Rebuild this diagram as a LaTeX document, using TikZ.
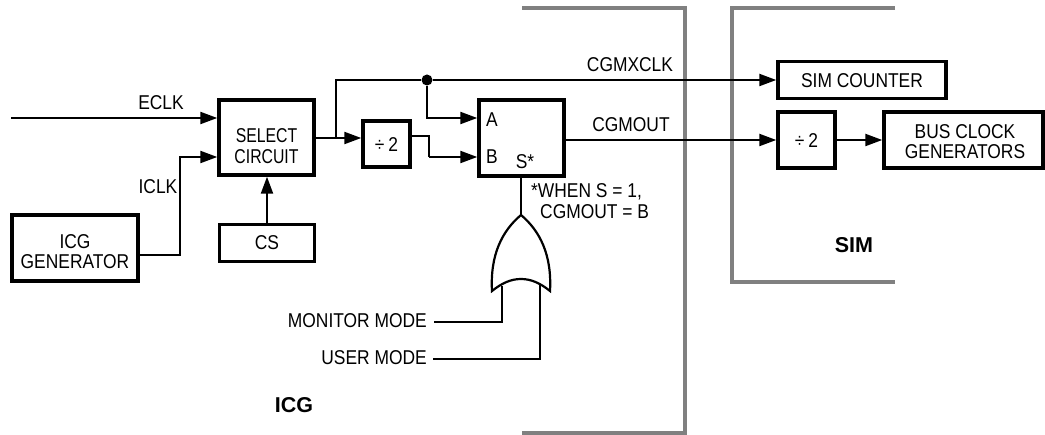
\documentclass[tikz,border=0pt]{standalone}
\usepackage{fontspec}
\setmainfont{Liberation Sans}
\newfontfamily\narrowA[FakeStretch=0.87]{Liberation Sans}
\newfontfamily\narrowB[FakeStretch=0.79]{Liberation Sans}
\usetikzlibrary{arrows.meta}
\tikzset{
 x=1pt,y=-1pt,
 thickbox/.style={draw=black,line width=3.4pt,minimum width=#1,inner sep=0pt},
 wire/.style={draw=black,line width=2.2pt},
 arrowwire/.style={wire,-{Triangle[length=17pt,width=12pt]}},
 lab/.style={inner sep=0pt,font=\narrowA\fontsize{20}{20}\selectfont},
 narrow lab/.style={inner sep=0pt,font=\narrowB\fontsize{20}{20}\selectfont},
 bold lab/.style={inner sep=0pt,font=\fontsize{21.5}{22}\selectfont\bfseries},
 border/.style={draw=black!50,line width=4pt}
}
\begin{document}
\begin{tikzpicture}
\useasboundingbox (0,0) rectangle (1045,435);
% gray borders
\coordinate (icgTop) at (522,8); \coordinate (icgTopR) at (685,8);
\coordinate (icgBotR) at (685,433); \coordinate (icgBot) at (522,433);
\coordinate (simTop) at (895,8); \coordinate (simTopL) at (732,8);
\coordinate (simBotL) at (732,282); \coordinate (simBot) at (895,282);
\path[border] (icgTop) -- (icgTopR) -- (icgBotR) -- (icgBot);
\path[border] (simTop) -- (simTopL) -- (simBotL) -- (simBot);
% boxes
\node[thickbox=95pt,minimum height=75pt] (sel) at (266.5,137.5) {};
\node[thickbox=126pt,minimum height=66pt] (gen) at (75,248) {};
\node[thickbox=95pt,minimum height=37pt,line width=2.2pt] (cs) at (267,243) {};
\node[thickbox=47pt,minimum height=46pt] (divA) at (386.5,144) {};
\node[thickbox=85pt,minimum height=76pt] (mux) at (521.5,138) {};
\node[thickbox=168pt,minimum height=37pt] (cnt) at (862,80) {};
\node[thickbox=57pt,minimum height=56pt] (divB) at (806.5,140) {};
\node[thickbox=159pt,minimum height=56pt] (bus) at (963.5,140) {};
% inputs
\coordinate (eIn) at (11,118);
\coordinate (iclkY) at (180,157);
\coordinate (branch) at (336,138);
\coordinate (topL) at (336,80);
\node[circle,fill=black,inner sep=0pt,minimum size=11pt] (dot) at (427,80) {};
\coordinate (aY) at (427,118);
\coordinate (divOutX) at (429,136);
\coordinate (bY) at (429,157);
\draw[arrowwire] (eIn) -- (sel.west |- eIn);
\draw[arrowwire] (gen.east |- 0,255) -| (iclkY) -- (sel.west |- iclkY);
\draw[arrowwire] (cs.north) -- (sel.south -| cs.north);
\draw[arrowwire] (sel.east |- branch) -- (divA.west |- branch);
\draw[wire] (branch) -- (topL) -- (dot);
\draw[arrowwire] (dot) -- (aY) -- (mux.west |- aY);
\draw[arrowwire] (dot) -- (cnt.west |- dot);
\draw[wire] (divA.east |- divOutX) -- (divOutX) -- (bY);
\draw[arrowwire] (bY) -- (mux.west |- bY);
\draw[arrowwire] (mux.east |- 0,140) -- (divB.west |- 0,140);
\draw[arrowwire] (divB.east) -- (bus.west);
% OR gate
\coordinate (orOut) at (521,215);
\coordinate (orL) at (492,291);
\coordinate (orR) at (550,291);
\coordinate (mIn) at (502,286);
\coordinate (uIn) at (540,284);
\coordinate (mTurn) at (502,322);
\coordinate (uTurn) at (540,359);
\coordinate (mEnd) at (434,322);
\coordinate (uEnd) at (433,359);
\draw[wire,line join=miter] (orOut) .. controls (502,231) and (490,255) .. (orL)
  .. controls (502,283) and (511,279) .. (521,279)
  .. controls (531,279) and (540,283) .. (orR)
  .. controls (552,255) and (540,231) .. (orOut) -- cycle;
\draw[wire] (mux.south -| orOut) -- (orOut);
\draw[wire] (mEnd) -- (mTurn) -- (mIn);
\draw[wire] (uEnd) -- (uTurn) -- (uIn);
% labels
\node[narrow lab] (tSel1) at (266.5,136) {SELECT};
\node[narrow lab] (tSel2) at (266.5,157) {CIRCUIT};
\node[lab] (tGen1) at (75,242) {ICG};
\node[lab] (tGen2) at (75,262) {GENERATOR};
\node[lab] (tCs) at (267,243) {CS};
\node[lab] (tDivA) at (386.5,145) {÷\hspace{4pt}2};
\node[lab] (tCnt) at (862,81) {SIM COUNTER};
\node[lab] (tDivB) at (806.5,141) {÷\hspace{4pt}2};
\node[lab] (tBus1) at (965,132) {BUS CLOCK};
\node[lab] (tBus2) at (965,152) {GENERATORS};
\node[lab] (lEclk) at (161,103) {ECLK};
\node[lab] (lIclk) at (158,187) {ICLK};
\node[lab] (lA) at (492,120) {A};
\node[lab] (lB) at (492,157) {B};
\node[lab] (lS) at (525,162) {S*};
\node[lab] (lMx) at (630,65) {CGMXCLK};
\node[lab] (lOut) at (631,125) {CGMOUT};
\node[lab,anchor=west] (lW1) at (531,192) {*WHEN S = 1,};
\node[lab,anchor=west] (lW2) at (540,212) {CGMOUT = B};
\node[lab,anchor=east] (lMon) at (427,321) {MONITOR MODE};
\node[lab,anchor=east] (lUsr) at (427,358) {USER MODE};
\node[bold lab] (lIcg) at (294,405) {ICG};
\node[bold lab] (lSim) at (854,245) {SIM};
\end{tikzpicture}
\end{document}
